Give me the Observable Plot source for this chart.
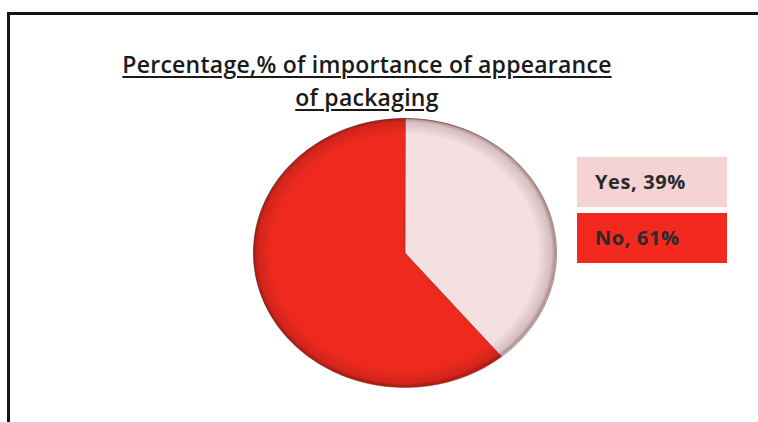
<!DOCTYPE html>
<html>
<head>
<meta charset="utf-8">
<script src="https://cdn.jsdelivr.net/npm/d3@7"></script>
<script src="https://cdn.jsdelivr.net/npm/@observablehq/plot@0.6"></script>
<style>
  html, body { margin: 0; padding: 0; background: #fff; overflow: hidden; }
  #wrap { position: relative; width: 758px; height: 422px; overflow: hidden; font-family: "Open Sans", Lato, sans-serif; }
  #frame { position: absolute; left: 7px; top: 12px; width: 751px; height: 410px; border-top: 3px solid #151515; border-left: 3px solid #151515; box-sizing: border-box; }
  #title { position: absolute; left: 0; width: 734px; top: 48px; text-align: center; font-size: 23px; letter-spacing: 0.25px; font-weight: 600; color: #1a1a1a; line-height: 33px; }
  #title span { text-decoration: underline; text-decoration-thickness: 2px; text-underline-offset: 3px; }
  #chart { position: absolute; left: 0; top: 0; }
  .leg { position: absolute; left: 577px; width: 150px; height: 50px; box-sizing: border-box; padding-left: 18px; font-size: 20px; letter-spacing: 0.6px; font-weight: 700; color: #2a2a2a; line-height: 50px; }
</style>
</head>
<body>
<div id="wrap">
  <div id="frame"></div>
  <div id="title"><span>Percentage,% of importance of appearance</span><br><span>of packaging</span></div>
  <div id="chart"></div>
</div>
<script>
const categories = ["Yes", "No"];
const values = [39, 61];
const labels = ["Yes, 39%", "No, 61%"];
const sliceColors = ["#f4dfe1", "#ee2a1f"];
const legendColors = ["#f6d3d3", "#f3281e"];

const arcs = d3.pie().sort(null).value(d => d)(values);
const pts = [];
arcs.forEach((a, i) => {
  pts.push({cat: categories[i], x: 0, y: 0});
  const n = 120;
  for (let k = 0; k <= n; k++) {
    const t = a.startAngle + (a.endAngle - a.startAngle) * k / n;
    pts.push({cat: categories[i], x: Math.sin(t), y: Math.cos(t)});
  }
});

function shade(index, scales, values, dims) {
  const cx = scales.x(0), cy = scales.y(0);
  const rx = Math.abs(scales.x(1) - cx), ry = Math.abs(scales.y(1) - cy);
  const g = d3.create("svg:g");
  const defs = g.append("defs");
  const rg = defs.append("radialGradient").attr("id", "edgeShade").attr("cx", "50%").attr("cy", "50%").attr("r", "50%");
  rg.append("stop").attr("offset", "0.88").attr("stop-color", "#000").attr("stop-opacity", 0);
  rg.append("stop").attr("offset", "0.97").attr("stop-color", "#3a0000").attr("stop-opacity", 0.15);
  rg.append("stop").attr("offset", "1").attr("stop-color", "#200000").attr("stop-opacity", 0.4);
  g.append("ellipse").attr("cx", cx).attr("cy", cy).attr("rx", rx).attr("ry", ry)
    .attr("fill", "url(#edgeShade)");
  return g.node();
}

const plot = Plot.plot({
  width: 758,
  height: 422,
  marginLeft: 253,
  marginRight: 202,
  marginTop: 118,
  marginBottom: 35,
  x: {domain: [-1, 1], axis: null},
  y: {domain: [-1, 1], axis: null},
  color: {domain: categories, range: sliceColors},
  style: {background: "transparent"},
  marks: [
    Plot.line(pts, {x: "x", y: "y", z: "cat", fill: "cat", stroke: "#6b2a28", strokeWidth: 1, strokeOpacity: 0.5, curve: "linear-closed"}),
    shade
  ]
});
document.getElementById("chart").appendChild(plot);

const wrap = document.getElementById("wrap");
const tops = [157, 213];
labels.forEach((t, i) => {
  const d = document.createElement("div");
  d.className = "leg";
  d.style.top = tops[i] + "px";
  d.style.background = legendColors[i];
  d.textContent = t;
  wrap.appendChild(d);
});
</script>
</body>
</html>
